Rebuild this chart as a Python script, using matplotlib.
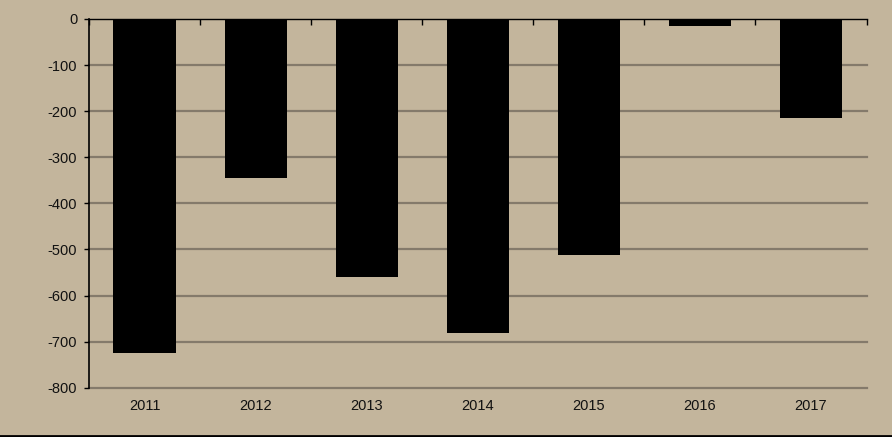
import numpy as np
import matplotlib
matplotlib.use("Agg")
import matplotlib.pyplot as plt
from matplotlib.lines import Line2D

years = ["2011", "2012", "2013", "2014", "2015", "2016", "2017"]
values = [-724, -345, -560, -681, -512, -15, -215]
yticks = [0, -100, -200, -300, -400, -500, -600, -700, -800]

bg = "#c3b59c"
grid_col = "#847a6b"

plt.rcParams["font.family"] = ["Liberation Sans", "DejaVu Sans"]

fig = plt.figure(figsize=(8.92, 4.37), dpi=100, facecolor=bg)
ax = fig.add_axes([89 / 892, 1 - 387.7 / 437, (866.5 - 89) / 892, (387.7 - 19) / 437])
ax.set_facecolor(bg)

x = np.arange(len(years))
ax.bar(x, values, width=0.56, color="black", zorder=3)

ax.set_xlim(-0.5, len(years) - 0.5)
ax.set_ylim(-800, 0)
ax.set_yticks(yticks)
ax.set_yticklabels([str(v) for v in yticks], fontsize=10.5, color="#111111")
ax.set_xticks(x)
ax.set_xticklabels(years, fontsize=10.5, color="#111111")
ax.set_xticks(np.arange(len(years) + 1) - 0.5, minor=True)

for v in yticks[1:]:
    ax.axhline(v, color=grid_col, lw=1.6, zorder=1, clip_on=False)

ax.tick_params(axis="x", which="major", length=0, pad=8)
ax.tick_params(axis="x", which="minor", bottom=False, top=True, direction="in",
               length=4.5, width=1, color="black")
ax.tick_params(axis="y", length=3.5, width=1, pad=5, color="black")

ax.spines["right"].set_visible(False)
ax.spines["bottom"].set_visible(False)
ax.spines["left"].set_color("black")
ax.spines["left"].set_linewidth(1.2)
ax.spines["left"].set_zorder(4)
ax.spines["top"].set_color("black")
ax.spines["top"].set_linewidth(1.0)
ax.spines["top"].set_zorder(4)

fig.add_artist(Line2D([0, 1], [0.003, 0.003], transform=fig.transFigure,
                      color="black", lw=2))

fig.savefig("out.png", dpi=100, facecolor=bg)
